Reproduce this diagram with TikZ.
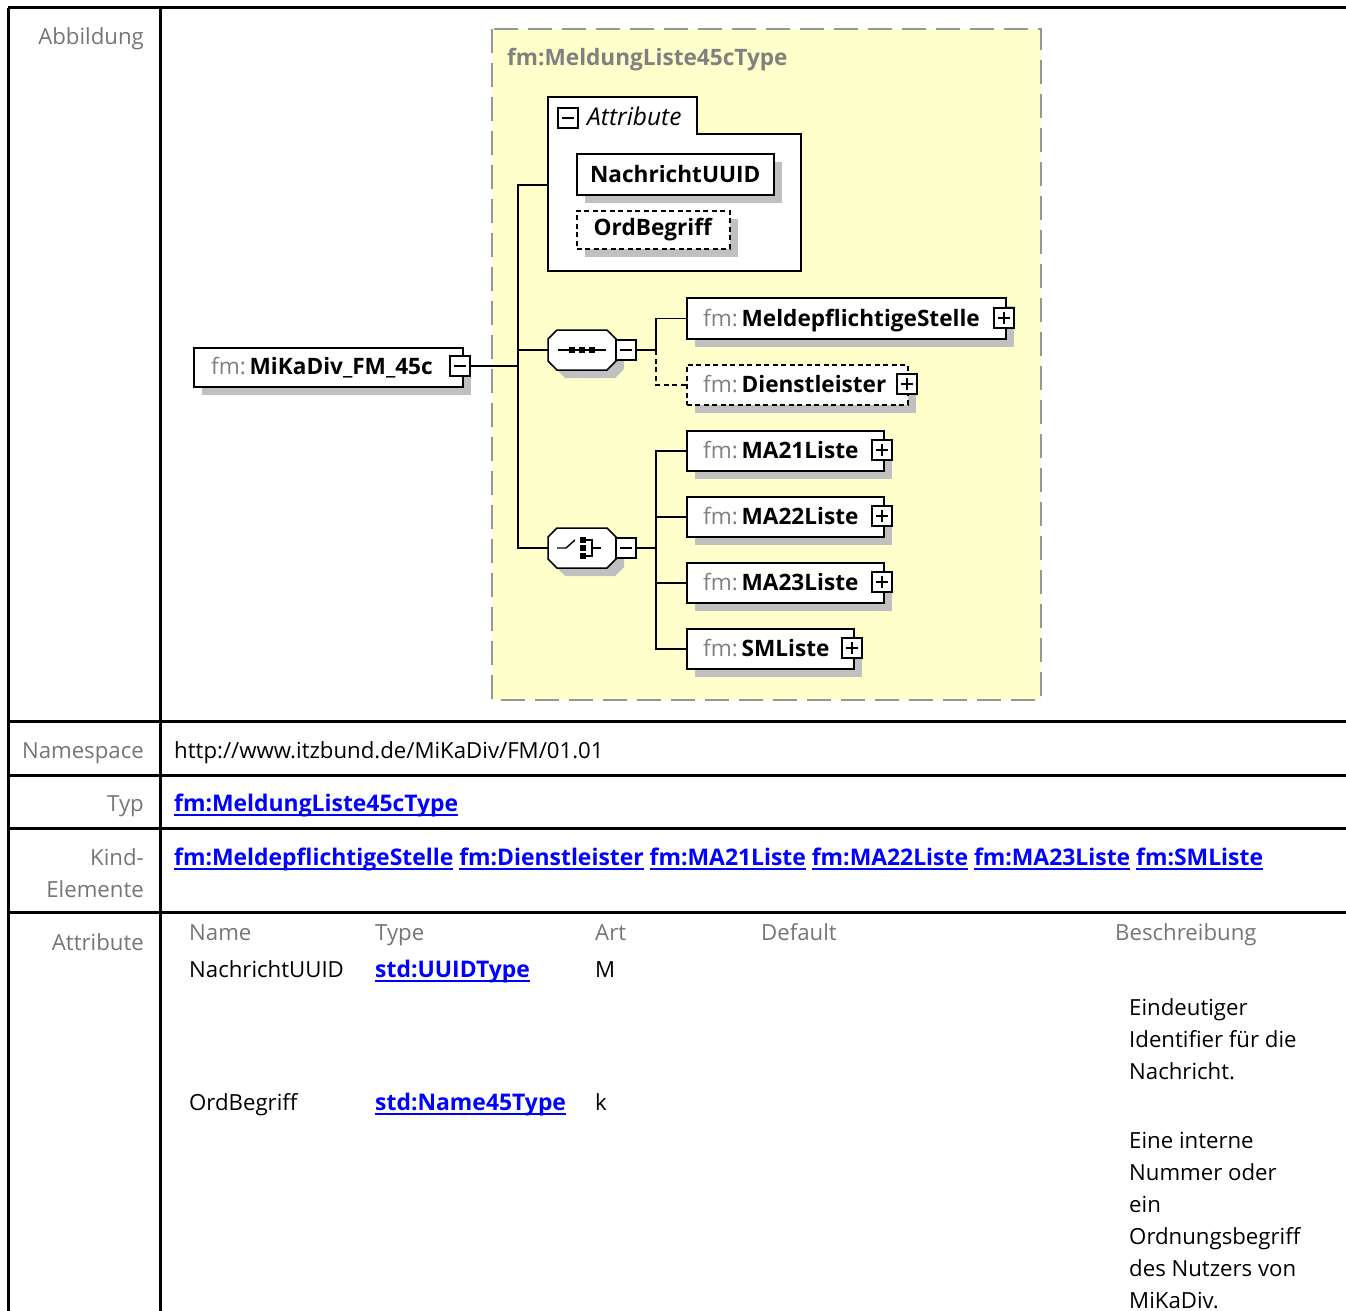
\documentclass[tikz,border=0pt]{standalone}
\usepackage{fontspec}
\setmainfont{Open Sans}
\usetikzlibrary{shadows}
\definecolor{ylw}{RGB}{255,255,204}
\definecolor{lgray}{RGB}{128,128,128}
\definecolor{hgray}{RGB}{118,118,118}
\definecolor{dgray}{RGB}{150,150,150}
\definecolor{lnkblue}{RGB}{0,0,255}
\definecolor{shad}{RGB}{192,192,192}
\newcommand\ulk[1]{\leavevmode\setbox0\hbox{#1}\rlap{\copy0}\rule[-5pt]{\wd0}{2pt}}
\newcommand\fmname[1]{{\color{lgray}fm:}\,\textbf{#1}}
\def\octpath#1{(#1) ++(-34,-11) -- ++(9,-9) -- ++(50,0) -- ++(9,9) -- ++(0,22) -- ++(-9,9) -- ++(-50,0) -- ++(-9,-9) -- cycle}
\begin{document}
\begin{tikzpicture}[x=1pt,y=-1pt,
  tline/.style={line width=3pt},
  tfont/.style={font=\fontsize{22.2}{32}\selectfont},
  lbl/.style={tfont, anchor=base east, inner sep=0, text=hgray},
  val/.style={tfont, anchor=base west, inner sep=0},
  lnk/.style={anchor=base west, inner sep=0, text=lnkblue, font=\fontsize{22.9}{32}\selectfont\bfseries},
  dfont/.style={font=\fontsize{22.6}{25}\selectfont},
  etxt/.style={dfont, anchor=base west, inner sep=0},
  elbox/.style={draw, line width=1.5pt, fill=white, minimum height=40pt, inner sep=0, anchor=north west,
     drop shadow={shadow xshift=8pt, shadow yshift=-8pt, fill=shad, opacity=1}},
  optbox/.style={elbox, dash pattern=on 5pt off 3.5pt},
  conn/.style={line width=1.5pt},
  minbox/.style={draw, line width=1.2pt, fill=white, minimum size=20pt, inner sep=0,
     path picture={\draw[line width=1.3pt] ([xshift=4pt]path picture bounding box.west) -- ([xshift=-4pt]path picture bounding box.east);}},
  plusbox/.style={minbox,
     path picture={\draw[line width=1.3pt] ([xshift=4pt]path picture bounding box.west) -- ([xshift=-4pt]path picture bounding box.east);
                   \draw[line width=1.3pt] ([yshift=-4pt]path picture bounding box.north) -- ([yshift=4pt]path picture bounding box.south);}},
  sq/.style={fill=black, minimum size=6.5pt, inner sep=0}
]
\useasboundingbox (0,0) rectangle (1346,1311);
\fill[white] (0,0) rectangle (1346,1311);

% ---------------- table ----------------
\draw[tline] (8,8) -- (1346,8);
\draw[tline] (8,8) -- (8,1311);
\draw[tline] (160,8) -- (160,1311);
\draw[tline] (8,721) -- (1346,721);
\draw[tline] (8,775) -- (1346,775);
\draw[tline] (8,828) -- (1346,828);
\draw[tline] (8,912) -- (1346,912);

\node[lbl] (lAbb) at (144,45) {Abbildung};
\node[lbl] (lNs) at (144,758) {Namespace};
\node[lbl] (lTyp) at (144,811) {Typ};
\node[lbl] (lKind1) at (144,865) {Kind-};
\node[lbl] (lKind2) at (144,897) {Elemente};
\node[lbl] (lAttr) at (144,950) {Attribute};

\node[val] (vNs) at (174,758) {http://www.itzbund.de/MiKaDiv/FM/01.01};
\node[lnk] (vTyp) at (174,811) {\ulk{fm:MeldungListe45cType}};
\node[lnk] (vKind) at (174,865) {\ulk{fm:MeldepflichtigeStelle} \ulk{fm:Dienstleister} \ulk{fm:MA21Liste} \ulk{fm:MA22Liste} \ulk{fm:MA23Liste} \ulk{fm:SMListe}};

\node[val, text=hgray] (hName) at (189,940) {Name};
\node[val, text=hgray] (hType) at (375,940) {Type};
\node[val, text=hgray] (hArt) at (595,940) {Art};
\node[val, text=hgray] (hDef) at (761,940) {Default};
\node[val, text=hgray] (hBes) at (1115,940) {Beschreibung};

\node[val] (r1n) at (189,977) {NachrichtUUID};
\node[lnk] (r1t) at (375,977) {\ulk{std:UUIDType}};
\node[val] (r1a) at (595,977) {M};
\node[val] (r1d1) at (1129,1015) {Eindeutiger};
\node[val] (r1d2) at (1129,1047) {Identifier für die};
\node[val] (r1d3) at (1129,1079) {Nachricht.};

\node[val] (r2n) at (189,1110) {OrdBegriff};
\node[lnk] (r2t) at (375,1110) {\ulk{std:Name45Type}};
\node[val] (r2a) at (595,1110) {k};
\node[val] (r2d1) at (1129,1148) {Eine interne};
\node[val] (r2d2) at (1129,1180) {Nummer oder};
\node[val] (r2d3) at (1129,1212) {ein};
\node[val] (r2d4) at (1129,1244) {Ordnungsbegriff};
\node[val] (r2d5) at (1129,1276) {des Nutzers von};
\node[val] (r2d6) at (1129,1308) {MiKaDiv.};

% ---------------- diagram ----------------
% complex type frame
\fill[ylw] (492,29) rectangle (1041,700);
\draw[dgray, line width=2pt, dash pattern=on 24pt off 10pt] (492,29) rectangle (1041,700);
\node[dfont, anchor=base west, inner sep=0, text=lgray] (ctitle) at (507,66) {\textbf{fm:MeldungListe45cType}};

% attribute group
\draw[line width=1.5pt, fill=white] (548,97) -- (697,97) -- (697,134) -- (801,134) -- (801,271) -- (548,271) -- cycle;
\coordinate (attrW) at (548,185);
\node[minbox] (attmin) at (568,118) {};
\node[font=\fontsize{24.5}{27}\selectfont\itshape, anchor=base west, inner sep=0] (atttxt) at (587,126) {Attribute};
\node[elbox, minimum width=197pt, minimum height=41pt] (aUUID) at (576,153) {};
\node[dfont, inner sep=0] (aUUIDt) at (aUUID.center) {\textbf{NachrichtUUID}};
\node[optbox, minimum width=153pt, minimum height=38pt] (aOrd) at (576,210) {};
\node[dfont, inner sep=0] (aOrdt) at (aOrd.center) {\textbf{OrdBegriff}};

% root element
\node[elbox, minimum width=269pt, minimum height=39pt] (root) at (193,347) {};
\node[etxt] (roott) at (211,374) {\fmname{MiKaDiv\_FM\_45c}};
\node[minbox] (rmin) at (460,366) {};

% sequence compositor
\node[inner sep=0, minimum width=68pt, minimum height=40pt] (seq) at (582,350) {};
\fill[shad] \octpath{[shift={(8,8)}]seq.center};
\draw[line width=1.5pt, fill=white] \octpath{seq.center};
\draw[line width=1.5pt] ([xshift=-24pt]seq.center) -- ([xshift=24pt]seq.center);
\node[sq] (sq1) at ([xshift=-10pt]seq.center) {};
\node[sq] (sq2) at (seq.center) {};
\node[sq] (sq3) at ([xshift=10pt]seq.center) {};
\node[minbox] (seqm) at (626,350) {};

% choice compositor
\node[inner sep=0, minimum width=68pt, minimum height=40pt] (cho) at (582,548) {};
\fill[shad] \octpath{[shift={(8,8)}]cho.center};
\draw[line width=1.5pt, fill=white] \octpath{cho.center};
\node[sq] (c1) at (583,540) {};
\node[sq] (c2) at (583,548) {};
\node[sq] (c3) at (583,556) {};
\coordinate (chl1) at (557,548);
\coordinate (chl2) at (566,548);
\coordinate (chl3) at (575,540);
\draw[line width=1.4pt] (chl1) -- (chl2) -- (chl3);
\coordinate (chb1) at (592,540);
\coordinate (chb2) at (592,556);
\coordinate (chb3) at (601,548);
\draw[line width=1.4pt] (c1.east) -- (chb1) -- (chb2) -- (c3.east);
\draw[line width=1.4pt] (chb1 |- chb3) -- (chb3);
\node[minbox] (chom) at (626,548) {};

% sequence children
\node[elbox, minimum width=319pt, minimum height=41pt] (mel) at (686,297) {};
\node[etxt] (melt) at (703,326) {\fmname{MeldepflichtigeStelle}};
\node[plusbox] (melp) at (1004,318) {};
\node[optbox, minimum width=221pt, minimum height=40pt] (dl) at (686,364) {};
\node[etxt] (dlt) at (703,392) {\fmname{Dienstleister}};
\node[plusbox] (dlp) at (907,384) {};

% choice children
\node[elbox, minimum width=197pt] (ma21) at (686,430) {};
\node[etxt] (ma21t) at (703,458) {\fmname{MA21Liste}};
\node[plusbox] (ma21p) at (882,450) {};
\node[elbox, minimum width=197pt] (ma22) at (686,496) {};
\node[etxt] (ma22t) at (703,524) {\fmname{MA22Liste}};
\node[plusbox] (ma22p) at (882,516) {};
\node[elbox, minimum width=197pt] (ma23) at (686,562) {};
\node[etxt] (ma23t) at (703,590) {\fmname{MA23Liste}};
\node[plusbox] (ma23p) at (882,582) {};
\node[elbox, minimum width=167pt] (sml) at (686,628) {};
\node[etxt] (smlt) at (703,656) {\fmname{SMListe}};
\node[plusbox] (smlp) at (852,648) {};

% connectors
\coordinate (v1) at (518,366);
\coordinate (s1) at (656,350);
\coordinate (k1) at (656,548);
\draw[conn] (rmin.east) -- (v1);
\draw[conn] (v1) |- (attrW);
\draw[conn] (v1) |- (seq.west);
\draw[conn] (v1) |- (cho.west);
\draw[conn] (seqm.east) -- (s1) |- (mel.west);
\draw[conn, dash pattern=on 5pt off 3.5pt] (s1) |- (dl.west);
\draw[conn] (chom.east) -- (k1);
\draw[conn] (k1) |- (ma21.west);
\draw[conn] (k1) |- (ma22.west);
\draw[conn] (k1) |- (ma23.west);
\draw[conn] (k1) |- (sml.west);
\end{tikzpicture}
\end{document}
